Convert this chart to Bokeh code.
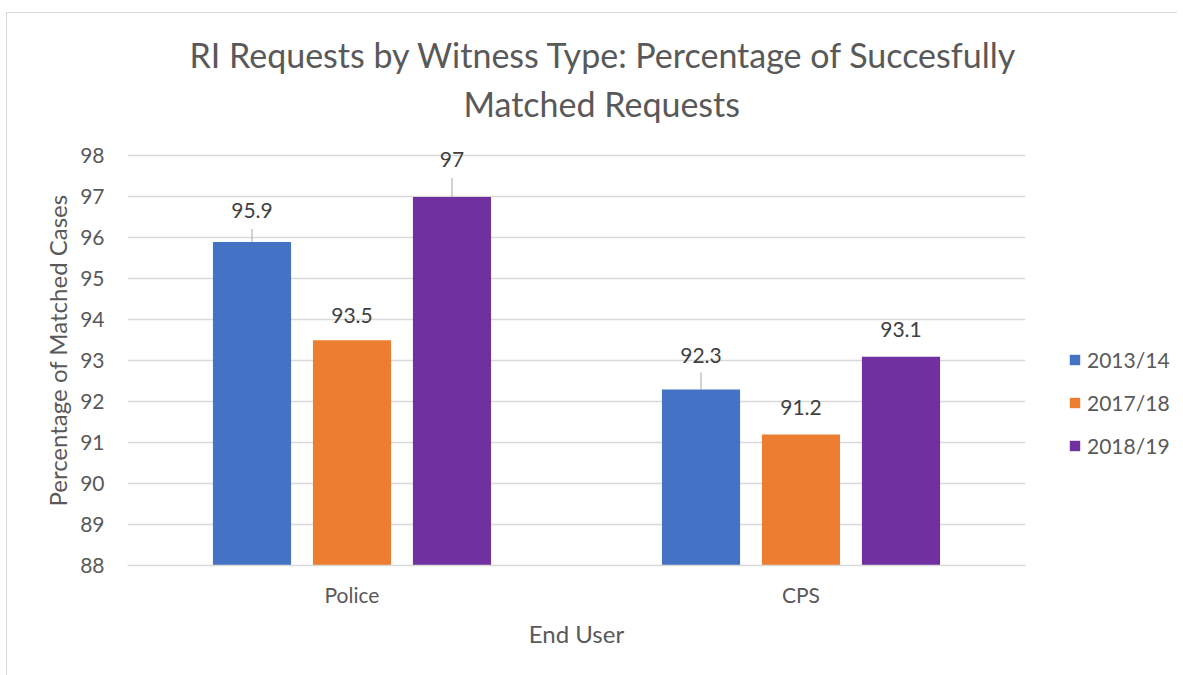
import math
from bokeh.plotting import figure
from bokeh.layouts import row
from bokeh.models import ColumnDataSource, FactorRange, Range1d, Legend, LegendItem, Title
from bokeh.transform import dodge
from bokeh.core.properties import value
from bokeh.embed import file_html
from bokeh.resources import INLINE

# ---- data ----
categories = ["Police", "CPS"]
years = ["2013/14", "2017/18", "2018/19"]
pct_2013_14 = [95.9, 92.3]
pct_2017_18 = [93.5, 91.2]
pct_2018_19 = [97.0, 93.1]
y_ticks = [88, 89, 90, 91, 92, 93, 94, 95, 96, 97, 98]
title_lines = ["RI Requests by Witness Type: Percentage of Succesfully", "Matched Requests"]

# ---- styles ----
colors = ["#4472C4", "#ED7D31", "#7030A0"]
offsets = [-0.2227, 0.0, 0.2227]
label_lift = [[31, 34], [25, 27], [37, 27]]   # px above bar top
leader_len = [[13, 17], [0, 0], [19, 0]]      # px of leader line
FONT = "Lato"
TXT = "#595959"

p = figure(x_range=FactorRange(factors=categories, range_padding=0),
           y_range=Range1d(88, 98.5),
           width=1028, height=662, title=None,
           output_backend="svg", toolbar_location=None,
           min_border_left=120, min_border_right=10,
           min_border_top=122, min_border_bottom=110)
p.outline_line_color = None

p.add_layout(Title(text=title_lines[1], align="left", offset=336, standoff=23,
                   text_font=FONT, text_font_size="34px", text_font_style="normal",
                   text_color=TXT), "above")
p.add_layout(Title(text=title_lines[0], align="left", offset=62, standoff=-10,
                   text_font=FONT, text_font_size="34px", text_font_style="normal",
                   text_color=TXT), "above")

series = [pct_2013_14, pct_2017_18, pct_2018_19]
for i, vals in enumerate(series):
    src = ColumnDataSource(dict(cat=categories, val=vals,
                                lab=[f"{v:g}" for v in vals],
                                lift=[-l for l in label_lift[i]]))
    p.vbar(x=dodge("cat", offsets[i], range=p.x_range), top="val", bottom=88,
           width=0.174, color=colors[i], line_color=None, source=src)
    p.text(x=dodge("cat", offsets[i], range=p.x_range), y="val", text="lab",
           y_offset="lift", text_align="center", text_baseline="middle",
           text_font=value(FONT), text_font_size="21px", text_color="#404040",
           source=src)
    lx, ly, ll = [], [], []
    for c, v, L in zip(categories, vals, leader_len[i]):
        if L > 0:
            lx.append(c); ly.append(v); ll.append(L)
    if lx:
        lsrc = ColumnDataSource(dict(cat=lx, val=ly, L=ll))
        p.ray(x=dodge("cat", offsets[i], range=p.x_range), y="val", length="L",
              length_units="screen", angle=math.pi / 2, line_color="#a6a6a6",
              line_width=1, source=lsrc)

# axes
p.xgrid.grid_line_color = None
p.ygrid.grid_line_color = "#d9d9d9"
p.ygrid.grid_line_width = 1.5
p.yaxis.ticker = y_ticks
p.yaxis.axis_line_color = None
p.yaxis.major_tick_line_color = None
p.yaxis.minor_tick_line_color = None
p.yaxis.major_label_standoff = 17
p.yaxis.axis_label = "Percentage of Matched Cases"
p.yaxis.axis_label_standoff = 5
p.xaxis.axis_label = "End User"
p.xaxis.axis_line_color = "#d9d9d9"
p.xaxis.axis_line_width = 1.5
p.xaxis.major_tick_line_color = None
p.xaxis.minor_tick_line_color = None
p.xaxis.major_label_standoff = 10
p.xaxis.axis_label_standoff = 9
for ax in (p.xaxis, p.yaxis):
    ax.major_label_text_font = FONT
    ax.major_label_text_font_size = "21px"
    ax.major_label_text_color = TXT
    ax.axis_label_text_font = FONT
    ax.axis_label_text_font_size = "24px"
    ax.axis_label_text_font_style = "normal"
    ax.axis_label_text_color = TXT

# legend panel (separate figure so that the legend is not clipped by the bar frame)
lf = figure(width=142, height=662, x_range=Range1d(0, 1), y_range=Range1d(0, 1),
            output_backend="svg", toolbar_location=None,
            min_border=0, min_border_left=0, min_border_right=0,
            min_border_top=0, min_border_bottom=0)
lf.axis.visible = False
lf.grid.visible = False
lf.outline_line_color = None
items = []
for i, yr in enumerate(years):
    # proxy renderer placed outside the visible range; only its legend swatch shows
    r = lf.vbar(x=[5], top=[5], bottom=[4], width=0.1, color=colors[i], line_color=None)
    items.append(LegendItem(label=yr, renderers=[r]))
legend = Legend(items=items, location=(33, 107), orientation="vertical",
                label_text_font=FONT, label_text_font_size="21px", label_text_color=TXT,
                glyph_width=13, glyph_height=13, label_standoff=6, spacing=18,
                padding=0, margin=0, border_line_color=None, background_fill_alpha=0)
lf.add_layout(legend, "center")

layout = row(p, lf, spacing=0,
             styles={"border-left": "1px solid #d9d9d9", "border-top": "1px solid #d9d9d9",
                     "margin-top": "12px", "margin-left": "6px"})

open("out.html", "w").write(file_html(layout, INLINE))
